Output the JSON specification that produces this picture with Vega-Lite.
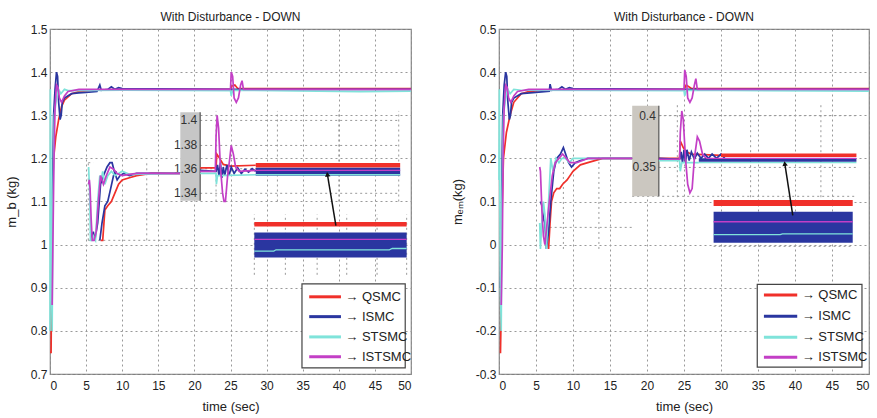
{
"$schema": "https://vega.github.io/schema/vega-lite/v6.json",
"background": "white",
"padding": {"left": 4, "top": 10, "right": 0, "bottom": 0},
"autosize": {"type": "pad"},
"bounds": "flush",
"spacing": 88,
"config": {
  "font": "Liberation Sans",
  "view": {"stroke": "#808080", "strokeWidth": 1.2},
  "axis": {"domain": false, "ticks": false, "grid": true, "gridColor": "#999", "gridDash": [2, 3], "gridWidth": 1, "labelFontSize": 12, "labelColor": "#222", "labelFont": "Liberation Sans", "titleFont": "Liberation Sans", "titleFontSize": 13, "titleFontWeight": "normal", "titleColor": "#222", "labelPadding": 4},
  "title": {"fontSize": 12, "fontWeight": "normal", "offset": -1, "color": "#222", "font": "Liberation Sans"}
},
"datasets": {
  "Lm": [
    {"s":"QSMC","g":"m","t":0,"v":0.75},{"s":"QSMC","g":"m","t":0.15,"v":0.75},{"s":"QSMC","g":"m","t":0.22,"v":0.9},{"s":"QSMC","g":"m","t":0.3,"v":1.08},{"s":"QSMC","g":"m","t":0.4,"v":1.15},{"s":"QSMC","g":"m","t":0.5,"v":1.2},{"s":"QSMC","g":"m","t":0.8,"v":1.25},{"s":"QSMC","g":"m","t":1.2,"v":1.29},{"s":"QSMC","g":"m","t":1.6,"v":1.32},{"s":"QSMC","g":"m","t":2,"v":1.335},{"s":"QSMC","g":"m","t":3,"v":1.35},{"s":"QSMC","g":"m","t":4,"v":1.355},{"s":"QSMC","g":"m","t":6,"v":1.358},{"s":"QSMC","g":"m","t":10,"v":1.36},{"s":"QSMC","g":"m","t":25,"v":1.36},{"s":"QSMC","g":"m","t":25.2,"v":1.368},{"s":"QSMC","g":"m","t":25.6,"v":1.37},{"s":"QSMC","g":"m","t":26,"v":1.362},{"s":"QSMC","g":"m","t":50,"v":1.362},
    {"s":"QSMC","g":"i1","t":7.0,"v":1.01},{"s":"QSMC","g":"i1","t":7.3,"v":1.01},{"s":"QSMC","g":"i1","t":7.6,"v":1.08},{"s":"QSMC","g":"i1","t":8,"v":1.09},{"s":"QSMC","g":"i1","t":8.5,"v":1.1},{"s":"QSMC","g":"i1","t":9,"v":1.12},{"s":"QSMC","g":"i1","t":9.5,"v":1.14},{"s":"QSMC","g":"i1","t":10,"v":1.15},{"s":"QSMC","g":"i1","t":11,"v":1.155},{"s":"QSMC","g":"i1","t":12,"v":1.16},{"s":"QSMC","g":"i1","t":14,"v":1.165},{"s":"QSMC","g":"i1","t":18,"v":1.165},
    {"s":"QSMC","g":"i2","t":20.8,"v":1.178},{"s":"QSMC","g":"i2","t":23,"v":1.178},{"s":"QSMC","g":"i2","t":23.1,"v":1.21},{"s":"QSMC","g":"i2","t":23.5,"v":1.2},{"s":"QSMC","g":"i2","t":24,"v":1.186},{"s":"QSMC","g":"i2","t":25,"v":1.182},{"s":"QSMC","g":"i2","t":28.5,"v":1.184},
    {"s":"ISMC","g":"m","t":0.2,"v":0.86},{"s":"ISMC","g":"m","t":0.35,"v":1.1},{"s":"ISMC","g":"m","t":0.5,"v":1.3},{"s":"ISMC","g":"m","t":0.7,"v":1.36},{"s":"ISMC","g":"m","t":0.9,"v":1.4},{"s":"ISMC","g":"m","t":1.05,"v":1.39},{"s":"ISMC","g":"m","t":1.2,"v":1.33},{"s":"ISMC","g":"m","t":1.4,"v":1.29},{"s":"ISMC","g":"m","t":1.55,"v":1.3},{"s":"ISMC","g":"m","t":1.7,"v":1.33},{"s":"ISMC","g":"m","t":2,"v":1.34},{"s":"ISMC","g":"m","t":2.5,"v":1.345},{"s":"ISMC","g":"m","t":3,"v":1.35},{"s":"ISMC","g":"m","t":4,"v":1.352},{"s":"ISMC","g":"m","t":5,"v":1.353},{"s":"ISMC","g":"m","t":6.5,"v":1.355},{"s":"ISMC","g":"m","t":6.9,"v":1.37},{"s":"ISMC","g":"m","t":7.1,"v":1.358},{"s":"ISMC","g":"m","t":8,"v":1.36},{"s":"ISMC","g":"m","t":8.5,"v":1.366},{"s":"ISMC","g":"m","t":9,"v":1.36},{"s":"ISMC","g":"m","t":9.5,"v":1.364},{"s":"ISMC","g":"m","t":10,"v":1.362},{"s":"ISMC","g":"m","t":25,"v":1.36},{"s":"ISMC","g":"m","t":50,"v":1.36},
    {"s":"ISMC","g":"i1","t":5.6,"v":1.03},{"s":"ISMC","g":"i1","t":5.8,"v":1.02},{"s":"ISMC","g":"i1","t":6.0,"v":1.03},{"s":"ISMC","g":"i1","t":6.2,"v":1.01},{"s":"ISMC","g":"i1","t":6.6,"v":1.05},{"s":"ISMC","g":"i1","t":7.0,"v":1.14},{"s":"ISMC","g":"i1","t":7.4,"v":1.16},{"s":"ISMC","g":"i1","t":7.9,"v":1.18},{"s":"ISMC","g":"i1","t":8.3,"v":1.19},{"s":"ISMC","g":"i1","t":8.6,"v":1.19},{"s":"ISMC","g":"i1","t":8.9,"v":1.17},{"s":"ISMC","g":"i1","t":9.3,"v":1.15},{"s":"ISMC","g":"i1","t":9.7,"v":1.16},{"s":"ISMC","g":"i1","t":10.2,"v":1.165},{"s":"ISMC","g":"i1","t":11,"v":1.16},{"s":"ISMC","g":"i1","t":12,"v":1.165},{"s":"ISMC","g":"i1","t":18,"v":1.165},
    {"s":"ISMC","g":"i1b","t":6.9,"v":1.01},{"s":"ISMC","g":"i1b","t":7.2,"v":1.05},{"s":"ISMC","g":"i1b","t":7.6,"v":1.09},{"s":"ISMC","g":"i1b","t":8,"v":1.1},{"s":"ISMC","g":"i1b","t":8.4,"v":1.13},{"s":"ISMC","g":"i1b","t":8.8,"v":1.16},{"s":"ISMC","g":"i1b","t":9.2,"v":1.17},
    {"s":"ISMC","g":"i2","t":20.8,"v":1.172},{"s":"ISMC","g":"i2","t":23,"v":1.17},{"s":"ISMC","g":"i2","t":23.2,"v":1.185},{"s":"ISMC","g":"i2","t":23.4,"v":1.16},{"s":"ISMC","g":"i2","t":23.6,"v":1.19},{"s":"ISMC","g":"i2","t":23.8,"v":1.155},{"s":"ISMC","g":"i2","t":24,"v":1.18},{"s":"ISMC","g":"i2","t":24.2,"v":1.16},{"s":"ISMC","g":"i2","t":24.5,"v":1.185},{"s":"ISMC","g":"i2","t":24.8,"v":1.16},{"s":"ISMC","g":"i2","t":25.1,"v":1.18},{"s":"ISMC","g":"i2","t":25.5,"v":1.165},{"s":"ISMC","g":"i2","t":26,"v":1.178},{"s":"ISMC","g":"i2","t":26.5,"v":1.165},{"s":"ISMC","g":"i2","t":27,"v":1.175},{"s":"ISMC","g":"i2","t":27.5,"v":1.168},{"s":"ISMC","g":"i2","t":28,"v":1.176},{"s":"ISMC","g":"i2","t":28.5,"v":1.17},
    {"s":"STSMC","g":"m","t":0,"v":0.8},{"s":"STSMC","g":"m","t":0.05,"v":1.36},{"s":"STSMC","g":"m","t":0.12,"v":1.2},{"s":"STSMC","g":"m","t":0.22,"v":0.9},{"s":"STSMC","g":"m","t":0.3,"v":0.8},{"s":"STSMC","g":"m","t":0.4,"v":1.1},{"s":"STSMC","g":"m","t":0.6,"v":1.3},{"s":"STSMC","g":"m","t":0.9,"v":1.34},{"s":"STSMC","g":"m","t":1.2,"v":1.36},{"s":"STSMC","g":"m","t":1.5,"v":1.35},{"s":"STSMC","g":"m","t":2,"v":1.36},{"s":"STSMC","g":"m","t":2.5,"v":1.357},{"s":"STSMC","g":"m","t":10,"v":1.358},{"s":"STSMC","g":"m","t":25,"v":1.357},{"s":"STSMC","g":"m","t":25.1,"v":1.345},{"s":"STSMC","g":"m","t":25.3,"v":1.358},{"s":"STSMC","g":"m","t":43,"v":1.355},{"s":"STSMC","g":"m","t":50,"v":1.356},
    {"s":"STSMC","g":"i1","t":5.35,"v":1.18},{"s":"STSMC","g":"i1","t":5.5,"v":1.12},{"s":"STSMC","g":"i1","t":5.6,"v":1.01},{"s":"STSMC","g":"i1","t":5.8,"v":1.01},{"s":"STSMC","g":"i1","t":6.0,"v":1.02},{"s":"STSMC","g":"i1","t":6.3,"v":1.01},{"s":"STSMC","g":"i1","t":6.6,"v":1.1},{"s":"STSMC","g":"i1","t":6.9,"v":1.16},{"s":"STSMC","g":"i1","t":7.1,"v":1.15},{"s":"STSMC","g":"i1","t":7.3,"v":1.17},{"s":"STSMC","g":"i1","t":7.6,"v":1.14},{"s":"STSMC","g":"i1","t":8,"v":1.16},{"s":"STSMC","g":"i1","t":8.5,"v":1.17},{"s":"STSMC","g":"i1","t":9,"v":1.16},{"s":"STSMC","g":"i1","t":9.5,"v":1.165},{"s":"STSMC","g":"i1","t":10,"v":1.17},{"s":"STSMC","g":"i1","t":11,"v":1.163},{"s":"STSMC","g":"i1","t":18,"v":1.165},
    {"s":"STSMC","g":"i2","t":20.8,"v":1.165},{"s":"STSMC","g":"i2","t":23,"v":1.165},{"s":"STSMC","g":"i2","t":23.05,"v":1.14},{"s":"STSMC","g":"i2","t":23.2,"v":1.16},{"s":"STSMC","g":"i2","t":28.5,"v":1.162},
    {"s":"ISTSMC","g":"m","t":0.3,"v":0.86},{"s":"ISTSMC","g":"m","t":0.4,"v":1.0},{"s":"ISTSMC","g":"m","t":0.55,"v":1.2},{"s":"ISTSMC","g":"m","t":0.7,"v":1.32},{"s":"ISTSMC","g":"m","t":0.9,"v":1.37},{"s":"ISTSMC","g":"m","t":1.1,"v":1.365},{"s":"ISTSMC","g":"m","t":1.3,"v":1.34},{"s":"ISTSMC","g":"m","t":1.6,"v":1.33},{"s":"ISTSMC","g":"m","t":2,"v":1.345},{"s":"ISTSMC","g":"m","t":2.5,"v":1.355},{"s":"ISTSMC","g":"m","t":4,"v":1.36},{"s":"ISTSMC","g":"m","t":25,"v":1.36},{"s":"ISTSMC","g":"m","t":25.1,"v":1.4},{"s":"ISTSMC","g":"m","t":25.3,"v":1.39},{"s":"ISTSMC","g":"m","t":25.5,"v":1.34},{"s":"ISTSMC","g":"m","t":25.8,"v":1.33},{"s":"ISTSMC","g":"m","t":26.1,"v":1.34},{"s":"ISTSMC","g":"m","t":26.4,"v":1.37},{"s":"ISTSMC","g":"m","t":26.6,"v":1.38},{"s":"ISTSMC","g":"m","t":26.8,"v":1.36},{"s":"ISTSMC","g":"m","t":27.2,"v":1.36},{"s":"ISTSMC","g":"m","t":50,"v":1.36},
    {"s":"ISTSMC","g":"i1","t":5.35,"v":1.14},{"s":"ISTSMC","g":"i1","t":5.45,"v":1.15},{"s":"ISTSMC","g":"i1","t":5.55,"v":1.13},{"s":"ISTSMC","g":"i1","t":5.7,"v":1.06},{"s":"ISTSMC","g":"i1","t":5.85,"v":1.01},{"s":"ISTSMC","g":"i1","t":6.1,"v":1.01},{"s":"ISTSMC","g":"i1","t":6.4,"v":1.03},{"s":"ISTSMC","g":"i1","t":6.7,"v":1.1},{"s":"ISTSMC","g":"i1","t":7.0,"v":1.16},{"s":"ISTSMC","g":"i1","t":7.4,"v":1.14},{"s":"ISTSMC","g":"i1","t":7.8,"v":1.16},{"s":"ISTSMC","g":"i1","t":8.3,"v":1.18},{"s":"ISTSMC","g":"i1","t":8.8,"v":1.175},{"s":"ISTSMC","g":"i1","t":9.3,"v":1.165},{"s":"ISTSMC","g":"i1","t":10,"v":1.16},{"s":"ISTSMC","g":"i1","t":11,"v":1.163},{"s":"ISTSMC","g":"i1","t":12,"v":1.165},{"s":"ISTSMC","g":"i1","t":18,"v":1.165},
    {"s":"ISTSMC","g":"i2","t":20.8,"v":1.17},{"s":"ISTSMC","g":"i2","t":22.9,"v":1.17},{"s":"ISTSMC","g":"i2","t":23,"v":1.25},{"s":"ISTSMC","g":"i2","t":23.15,"v":1.3},{"s":"ISTSMC","g":"i2","t":23.35,"v":1.27},{"s":"ISTSMC","g":"i2","t":23.6,"v":1.18},{"s":"ISTSMC","g":"i2","t":23.9,"v":1.12},{"s":"ISTSMC","g":"i2","t":24.1,"v":1.1},{"s":"ISTSMC","g":"i2","t":24.3,"v":1.1},{"s":"ISTSMC","g":"i2","t":24.6,"v":1.16},{"s":"ISTSMC","g":"i2","t":24.9,"v":1.2},{"s":"ISTSMC","g":"i2","t":25.1,"v":1.23},{"s":"ISTSMC","g":"i2","t":25.4,"v":1.21},{"s":"ISTSMC","g":"i2","t":25.7,"v":1.18},{"s":"ISTSMC","g":"i2","t":26.2,"v":1.17},{"s":"ISTSMC","g":"i2","t":28.5,"v":1.172}
  ],
  "Lb4": [
    {"s":"QSMC","g":"a","t":28.5,"v":1.184},{"s":"QSMC","g":"a","t":48.5,"v":1.184},
    {"s":"QSMC","g":"b","t":28.3,"v":1.047},{"s":"QSMC","g":"b","t":49.4,"v":1.047}
  ],
  "Lb8": [
    {"s":"ISMC","g":"a","t":28.5,"v":1.169},{"s":"ISMC","g":"a","t":48.5,"v":1.169}
  ],
  "Lb25": [
    {"s":"ISMC","g":"b","t":28.3,"v":0.999},{"s":"ISMC","g":"b","t":49.4,"v":0.999}
  ],
  "Ltop": [
    {"s":"STSMC","g":"a","t":28.5,"v":1.162},{"s":"STSMC","g":"a","t":48.5,"v":1.162},
    {"s":"STSMC","g":"b","t":28.3,"v":0.985},{"s":"STSMC","g":"b","t":31,"v":0.985},{"s":"STSMC","g":"b","t":31.3,"v":0.988},{"s":"STSMC","g":"b","t":47,"v":0.988},{"s":"STSMC","g":"b","t":47.4,"v":0.991},{"s":"STSMC","g":"b","t":49.4,"v":0.991},
    {"s":"ISTSMC","g":"a","t":28.5,"v":1.172},{"s":"ISTSMC","g":"a","t":48.5,"v":1.172},
    {"s":"ISTSMC","g":"b","t":28.3,"v":1.012},{"s":"ISTSMC","g":"b","t":49.4,"v":1.012}
  ],
  "Lgrid": [
    {"t":20.8,"v":1.288,"t2":48.3,"v2":1.288},{"t":20.8,"v":1.23,"t2":48.3,"v2":1.23},{"t":20.8,"v":1.176,"t2":48.3,"v2":1.176},{"t":20.8,"v":1.119,"t2":48.3,"v2":1.119},
    {"t":23,"v":1.1,"t2":23,"v2":1.31},{"t":31.5,"v":1.1,"t2":31.5,"v2":1.31},{"t":40,"v":1.1,"t2":40,"v2":1.31},{"t":48.3,"v":1.1,"t2":48.3,"v2":1.31},
    {"t":28.3,"v":0.93,"t2":28.3,"v2":1.07},{"t":32.6,"v":0.93,"t2":32.6,"v2":1.07},{"t":37,"v":0.93,"t2":37,"v2":1.07},{"t":41.1,"v":0.93,"t2":41.1,"v2":1.07},{"t":45.3,"v":0.93,"t2":45.3,"v2":1.07},{"t":49.4,"v":0.93,"t2":49.4,"v2":1.07},
    {"t":13.4,"v":1.01,"t2":13.4,"v2":1.19},{"t":5.3,"v":1.01,"t2":18,"v2":1.01},{"t":5.3,"v":1.01,"t2":5.3,"v2":1.19},{"t":5.3,"v":1.19,"t2":6,"v2":1.19}
  ],
  "Lbox": [{"t":18.05,"v":1.102,"t2":20.8,"v2":1.307}],
  "Ltx": [{"t":20.4,"v":1.288,"lab":"1.4"},{"t":20.4,"v":1.23,"lab":"1.38"},{"t":20.4,"v":1.176,"lab":"1.36"},{"t":20.4,"v":1.119,"lab":"1.34"}],
  "Larrow": [{"t":39.6,"v":1.044,"t2":38.45,"v2":1.16}],
  "Lhead": [{"t":38.42,"v":1.163}],
  "Llegbox": [{"t":34.9,"v":0.714,"t2":49.2,"v2":0.909}],
  "Lleg": [
    {"s":"QSMC","t":35.9,"t2":40.3,"v":0.879,"tl":40.9,"lab":"→ QSMC"},
    {"s":"ISMC","t":35.9,"t2":40.3,"v":0.833,"tl":40.9,"lab":"→ ISMC"},
    {"s":"STSMC","t":35.9,"t2":40.3,"v":0.786,"tl":40.9,"lab":"→ STSMC"},
    {"s":"ISTSMC","t":35.9,"t2":40.3,"v":0.74,"tl":40.9,"lab":"→ ISTSMC"}
  ],
  "Rm": [
    {"s":"QSMC","g":"m","t":0.1,"v":-0.25},{"s":"QSMC","g":"m","t":0.2,"v":-0.25},{"s":"QSMC","g":"m","t":0.25,"v":-0.2},{"s":"QSMC","g":"m","t":0.3,"v":0.0},{"s":"QSMC","g":"m","t":0.45,"v":0.1},{"s":"QSMC","g":"m","t":0.6,"v":0.2},{"s":"QSMC","g":"m","t":1,"v":0.26},{"s":"QSMC","g":"m","t":1.5,"v":0.3},{"s":"QSMC","g":"m","t":2,"v":0.33},{"s":"QSMC","g":"m","t":3,"v":0.35},{"s":"QSMC","g":"m","t":4,"v":0.355},{"s":"QSMC","g":"m","t":6,"v":0.358},{"s":"QSMC","g":"m","t":10,"v":0.36},{"s":"QSMC","g":"m","t":25,"v":0.36},{"s":"QSMC","g":"m","t":25.3,"v":0.37},{"s":"QSMC","g":"m","t":26,"v":0.362},{"s":"QSMC","g":"m","t":50,"v":0.362},
    {"s":"QSMC","g":"i1","t":6.7,"v":-0.01},{"s":"QSMC","g":"i1","t":6.9,"v":0.05},{"s":"QSMC","g":"i1","t":7.1,"v":0.1},{"s":"QSMC","g":"i1","t":7.4,"v":0.12},{"s":"QSMC","g":"i1","t":7.8,"v":0.13},{"s":"QSMC","g":"i1","t":8.2,"v":0.13},{"s":"QSMC","g":"i1","t":8.6,"v":0.14},{"s":"QSMC","g":"i1","t":9.2,"v":0.15},{"s":"QSMC","g":"i1","t":10,"v":0.17},{"s":"QSMC","g":"i1","t":11,"v":0.185},{"s":"QSMC","g":"i1","t":12,"v":0.19},{"s":"QSMC","g":"i1","t":14,"v":0.2},{"s":"QSMC","g":"i1","t":18,"v":0.2},
    {"s":"QSMC","g":"i2","t":21.6,"v":0.2},{"s":"QSMC","g":"i2","t":24.4,"v":0.2},{"s":"QSMC","g":"i2","t":24.5,"v":0.24},{"s":"QSMC","g":"i2","t":24.9,"v":0.225},{"s":"QSMC","g":"i2","t":25.3,"v":0.215},{"s":"QSMC","g":"i2","t":26,"v":0.21},{"s":"QSMC","g":"i2","t":30,"v":0.207},
    {"s":"ISMC","g":"m","t":0.2,"v":-0.1},{"s":"ISMC","g":"m","t":0.35,"v":0.1},{"s":"ISMC","g":"m","t":0.5,"v":0.3},{"s":"ISMC","g":"m","t":0.7,"v":0.37},{"s":"ISMC","g":"m","t":0.9,"v":0.4},{"s":"ISMC","g":"m","t":1.05,"v":0.39},{"s":"ISMC","g":"m","t":1.2,"v":0.33},{"s":"ISMC","g":"m","t":1.4,"v":0.29},{"s":"ISMC","g":"m","t":1.55,"v":0.3},{"s":"ISMC","g":"m","t":1.7,"v":0.33},{"s":"ISMC","g":"m","t":2,"v":0.34},{"s":"ISMC","g":"m","t":3,"v":0.35},{"s":"ISMC","g":"m","t":5,"v":0.353},{"s":"ISMC","g":"m","t":6.8,"v":0.356},{"s":"ISMC","g":"m","t":6.9,"v":0.372},{"s":"ISMC","g":"m","t":7.1,"v":0.358},{"s":"ISMC","g":"m","t":8,"v":0.36},{"s":"ISMC","g":"m","t":8.5,"v":0.366},{"s":"ISMC","g":"m","t":9,"v":0.36},{"s":"ISMC","g":"m","t":9.5,"v":0.364},{"s":"ISMC","g":"m","t":10,"v":0.362},{"s":"ISMC","g":"m","t":25,"v":0.36},{"s":"ISMC","g":"m","t":50,"v":0.36},
    {"s":"ISMC","g":"i1","t":5.6,"v":0.1},{"s":"ISMC","g":"i1","t":5.8,"v":0.09},{"s":"ISMC","g":"i1","t":6.0,"v":0.06},{"s":"ISMC","g":"i1","t":6.2,"v":0.05},{"s":"ISMC","g":"i1","t":6.4,"v":-0.01},{"s":"ISMC","g":"i1","t":6.7,"v":0.03},{"s":"ISMC","g":"i1","t":7.0,"v":0.1},{"s":"ISMC","g":"i1","t":7.4,"v":0.17},{"s":"ISMC","g":"i1","t":7.8,"v":0.2},{"s":"ISMC","g":"i1","t":8.3,"v":0.21},{"s":"ISMC","g":"i1","t":8.7,"v":0.225},{"s":"ISMC","g":"i1","t":9.0,"v":0.21},{"s":"ISMC","g":"i1","t":9.4,"v":0.19},{"s":"ISMC","g":"i1","t":9.8,"v":0.18},{"s":"ISMC","g":"i1","t":10.3,"v":0.19},{"s":"ISMC","g":"i1","t":11,"v":0.195},{"s":"ISMC","g":"i1","t":12,"v":0.2},{"s":"ISMC","g":"i1","t":18,"v":0.2},
    {"s":"ISMC","g":"i2","t":21.6,"v":0.2},{"s":"ISMC","g":"i2","t":24.4,"v":0.198},{"s":"ISMC","g":"i2","t":24.6,"v":0.215},{"s":"ISMC","g":"i2","t":24.8,"v":0.19},{"s":"ISMC","g":"i2","t":25,"v":0.22},{"s":"ISMC","g":"i2","t":25.2,"v":0.19},{"s":"ISMC","g":"i2","t":25.4,"v":0.22},{"s":"ISMC","g":"i2","t":25.7,"v":0.195},{"s":"ISMC","g":"i2","t":26,"v":0.215},{"s":"ISMC","g":"i2","t":26.4,"v":0.198},{"s":"ISMC","g":"i2","t":26.8,"v":0.212},{"s":"ISMC","g":"i2","t":27.3,"v":0.2},{"s":"ISMC","g":"i2","t":27.8,"v":0.21},{"s":"ISMC","g":"i2","t":28.3,"v":0.2},{"s":"ISMC","g":"i2","t":28.8,"v":0.21},{"s":"ISMC","g":"i2","t":29.4,"v":0.2},{"s":"ISMC","g":"i2","t":30,"v":0.21},{"s":"ISMC","g":"i2","t":30.5,"v":0.2},
    {"s":"STSMC","g":"m","t":0,"v":0.15},{"s":"STSMC","g":"m","t":0.05,"v":0.36},{"s":"STSMC","g":"m","t":0.12,"v":0.1},{"s":"STSMC","g":"m","t":0.2,"v":-0.1},{"s":"STSMC","g":"m","t":0.3,"v":-0.2},{"s":"STSMC","g":"m","t":0.4,"v":0.1},{"s":"STSMC","g":"m","t":0.6,"v":0.3},{"s":"STSMC","g":"m","t":0.9,"v":0.34},{"s":"STSMC","g":"m","t":1.2,"v":0.36},{"s":"STSMC","g":"m","t":1.5,"v":0.35},{"s":"STSMC","g":"m","t":2,"v":0.36},{"s":"STSMC","g":"m","t":3,"v":0.358},{"s":"STSMC","g":"m","t":25,"v":0.357},{"s":"STSMC","g":"m","t":25.1,"v":0.345},{"s":"STSMC","g":"m","t":25.3,"v":0.358},{"s":"STSMC","g":"m","t":50,"v":0.356},
    {"s":"STSMC","g":"i1","t":5.5,"v":0.05},{"s":"STSMC","g":"i1","t":5.6,"v":-0.01},{"s":"STSMC","g":"i1","t":5.8,"v":0.06},{"s":"STSMC","g":"i1","t":6.0,"v":0.1},{"s":"STSMC","g":"i1","t":6.2,"v":0.07},{"s":"STSMC","g":"i1","t":6.4,"v":-0.01},{"s":"STSMC","g":"i1","t":6.7,"v":0.1},{"s":"STSMC","g":"i1","t":7.0,"v":0.2},{"s":"STSMC","g":"i1","t":7.3,"v":0.17},{"s":"STSMC","g":"i1","t":7.7,"v":0.2},{"s":"STSMC","g":"i1","t":8.1,"v":0.19},{"s":"STSMC","g":"i1","t":8.5,"v":0.2},{"s":"STSMC","g":"i1","t":9,"v":0.2},{"s":"STSMC","g":"i1","t":9.5,"v":0.19},{"s":"STSMC","g":"i1","t":10,"v":0.2},{"s":"STSMC","g":"i1","t":11,"v":0.2},{"s":"STSMC","g":"i1","t":18,"v":0.2},
    {"s":"STSMC","g":"i2","t":21.6,"v":0.195},{"s":"STSMC","g":"i2","t":24.4,"v":0.195},{"s":"STSMC","g":"i2","t":24.5,"v":0.17},{"s":"STSMC","g":"i2","t":24.7,"v":0.19},{"s":"STSMC","g":"i2","t":27,"v":0.19},
    {"s":"ISTSMC","g":"m","t":0.3,"v":-0.14},{"s":"ISTSMC","g":"m","t":0.45,"v":0.0},{"s":"ISTSMC","g":"m","t":0.55,"v":0.2},{"s":"ISTSMC","g":"m","t":0.7,"v":0.32},{"s":"ISTSMC","g":"m","t":0.9,"v":0.37},{"s":"ISTSMC","g":"m","t":1.1,"v":0.365},{"s":"ISTSMC","g":"m","t":1.3,"v":0.34},{"s":"ISTSMC","g":"m","t":1.6,"v":0.33},{"s":"ISTSMC","g":"m","t":2,"v":0.345},{"s":"ISTSMC","g":"m","t":2.5,"v":0.355},{"s":"ISTSMC","g":"m","t":4,"v":0.36},{"s":"ISTSMC","g":"m","t":25,"v":0.36},{"s":"ISTSMC","g":"m","t":25.1,"v":0.405},{"s":"ISTSMC","g":"m","t":25.3,"v":0.39},{"s":"ISTSMC","g":"m","t":25.5,"v":0.34},{"s":"ISTSMC","g":"m","t":25.8,"v":0.33},{"s":"ISTSMC","g":"m","t":26.1,"v":0.34},{"s":"ISTSMC","g":"m","t":26.4,"v":0.37},{"s":"ISTSMC","g":"m","t":26.6,"v":0.385},{"s":"ISTSMC","g":"m","t":26.8,"v":0.36},{"s":"ISTSMC","g":"m","t":27.2,"v":0.36},{"s":"ISTSMC","g":"m","t":50,"v":0.36},
    {"s":"ISTSMC","g":"i1","t":5.5,"v":0.18},{"s":"ISTSMC","g":"i1","t":5.6,"v":0.17},{"s":"ISTSMC","g":"i1","t":5.8,"v":0.08},{"s":"ISTSMC","g":"i1","t":6.0,"v":0.02},{"s":"ISTSMC","g":"i1","t":6.2,"v":0.0},{"s":"ISTSMC","g":"i1","t":6.5,"v":0.05},{"s":"ISTSMC","g":"i1","t":6.8,"v":0.1},{"s":"ISTSMC","g":"i1","t":7.2,"v":0.16},{"s":"ISTSMC","g":"i1","t":7.6,"v":0.19},{"s":"ISTSMC","g":"i1","t":8.1,"v":0.2},{"s":"ISTSMC","g":"i1","t":8.6,"v":0.21},{"s":"ISTSMC","g":"i1","t":9.1,"v":0.2},{"s":"ISTSMC","g":"i1","t":9.6,"v":0.19},{"s":"ISTSMC","g":"i1","t":10.5,"v":0.19},{"s":"ISTSMC","g":"i1","t":12,"v":0.2},{"s":"ISTSMC","g":"i1","t":18,"v":0.2},
    {"s":"ISTSMC","g":"i2","t":21.6,"v":0.198},{"s":"ISTSMC","g":"i2","t":24.4,"v":0.198},{"s":"ISTSMC","g":"i2","t":24.5,"v":0.26},{"s":"ISTSMC","g":"i2","t":24.7,"v":0.31},{"s":"ISTSMC","g":"i2","t":24.9,"v":0.29},{"s":"ISTSMC","g":"i2","t":25.2,"v":0.2},{"s":"ISTSMC","g":"i2","t":25.5,"v":0.14},{"s":"ISTSMC","g":"i2","t":25.8,"v":0.12},{"s":"ISTSMC","g":"i2","t":26.1,"v":0.13},{"s":"ISTSMC","g":"i2","t":26.4,"v":0.2},{"s":"ISTSMC","g":"i2","t":26.8,"v":0.25},{"s":"ISTSMC","g":"i2","t":27.1,"v":0.24},{"s":"ISTSMC","g":"i2","t":27.5,"v":0.21},{"s":"ISTSMC","g":"i2","t":28,"v":0.2}
  ],
  "Rb4": [
    {"s":"QSMC","g":"a","t":30,"v":0.207},{"s":"QSMC","g":"a","t":48.3,"v":0.207},
    {"s":"ISMC","g":"a","t":27,"v":0.196},{"s":"ISMC","g":"a","t":48.3,"v":0.196}
  ],
  "Rb6": [
    {"s":"QSMC","g":"b","t":29,"v":0.0965},{"s":"QSMC","g":"b","t":47.8,"v":0.0965}
  ],
  "Rb31": [
    {"s":"ISMC","g":"b","t":29,"v":0.0405},{"s":"ISMC","g":"b","t":47.8,"v":0.0405}
  ],
  "Rtop": [
    {"s":"STSMC","g":"a","t":27,"v":0.19},{"s":"STSMC","g":"a","t":48.3,"v":0.19},
    {"s":"STSMC","g":"b","t":29,"v":0.023},{"s":"STSMC","g":"b","t":38,"v":0.023},{"s":"STSMC","g":"b","t":38.3,"v":0.025},{"s":"STSMC","g":"b","t":47.8,"v":0.025},
    {"s":"ISTSMC","g":"a","t":28,"v":0.2},{"s":"ISTSMC","g":"a","t":48.3,"v":0.2},
    {"s":"ISTSMC","g":"b","t":29,"v":0.053},{"s":"ISTSMC","g":"b","t":47.8,"v":0.053}
  ],
  "Rgrid": [
    {"t":21.6,"v":0.299,"t2":48.3,"v2":0.299},{"t":21.6,"v":0.179,"t2":48.3,"v2":0.179},
    {"t":24.1,"v":0.11,"t2":24.1,"v2":0.33},{"t":34,"v":0.11,"t2":34,"v2":0.33},{"t":43.5,"v":0.11,"t2":43.5,"v2":0.33},
    {"t":18,"v":0.112,"t2":48.3,"v2":0.112},
    {"t":29,"v":-0.004,"t2":47.8,"v2":-0.004},
    {"t":8.7,"v":-0.01,"t2":8.7,"v2":0.21},{"t":13.5,"v":-0.01,"t2":13.5,"v2":0.21},{"t":5.5,"v":0.04,"t2":18,"v2":0.04}
  ],
  "Rbox": [{"t":18.0,"v":0.112,"t2":21.6,"v2":0.322}],
  "Rtx": [{"t":21.2,"v":0.299,"lab":"0.4"},{"t":21.2,"v":0.179,"lab":"0.35"}],
  "Rarrow": [{"t":39.7,"v":0.068,"t2":38.65,"v2":0.185}],
  "Rhead": [{"t":38.62,"v":0.188}],
  "Rlegbox": [{"t":34.9,"v":-0.284,"t2":49.05,"v2":-0.092}],
  "Rleg": [
    {"s":"QSMC","t":35.8,"t2":40.3,"v":-0.117,"tl":40.9,"lab":"→ QSMC"},
    {"s":"ISMC","t":35.8,"t2":40.3,"v":-0.166,"tl":40.9,"lab":"→ ISMC"},
    {"s":"STSMC","t":35.8,"t2":40.3,"v":-0.215,"tl":40.9,"lab":"→ STSMC"},
    {"s":"ISTSMC","t":35.8,"t2":40.3,"v":-0.261,"tl":40.9,"lab":"→ ISTSMC"}
  ]
},
"resolve": {"scale": {"x": "independent", "y": "independent", "color": "independent"}},
"hconcat": [
  {
    "title": "With Disturbance - DOWN",
    "width": 361, "height": 345,
    "encoding": {
      "x": {"field": "t", "type": "quantitative", "scale": {"domain": [0, 50], "nice": false, "zero": false}, "axis": {"values": [0,5,10,15,20,25,30,35,40,45,50], "title": "time (sec)", "titlePadding": 9, "labelPadding": 6}},
      "y": {"field": "v", "type": "quantitative", "scale": {"domain": [0.7, 1.5], "nice": false, "zero": false}, "axis": {"values": [0.7,0.8,0.9,1,1.1,1.2,1.3,1.4,1.5], "labelExpr": "toString(round(datum.value*10)/10)", "title": "m_b (kg)", "titlePadding": 12, "labelPadding": 3}}
    },
    "layer": [
      {"data": {"name": "Lgrid"}, "mark": {"type": "rule", "color": "#999", "strokeDash": [2, 3], "strokeWidth": 1}, "encoding": {"x2": {"field": "t2"}, "y2": {"field": "v2"}}},
      {"data": {"name": "Lbox"}, "mark": {"type": "rect", "color": "#c6c6c6"}, "encoding": {"x2": {"field": "t2"}, "y2": {"field": "v2"}}},
      {"data": {"name": "Lbox"}, "mark": {"type": "rule", "color": "#555", "strokeWidth": 1.2}, "encoding": {"x": {"field": "t2", "type": "quantitative"}, "y2": {"field": "v2"}}},
      {"data": {"name": "Ltx"}, "mark": {"type": "text", "align": "right", "baseline": "middle", "fontSize": 12, "color": "#333"}, "encoding": {"text": {"field": "lab"}}},
      {"data": {"name": "Lm"}, "mark": {"type": "line", "strokeWidth": 1.7}, "encoding": {"color": {"field": "s", "type": "nominal", "scale": {"domain": ["QSMC","ISMC","STSMC","ISTSMC"], "range": ["#f0302a","#2a36a0","#7fe3da","#c33fc6"]}, "legend": null}, "detail": {"field": "g"}}},
      {"data": {"name": "Lb4"}, "mark": {"type": "line", "strokeWidth": 4.5, "strokeCap": "butt"}, "encoding": {"color": {"field": "s", "type": "nominal", "legend": null}, "detail": {"field": "g"}}},
      {"data": {"name": "Lb8"}, "mark": {"type": "line", "strokeWidth": 8, "strokeCap": "butt"}, "encoding": {"color": {"field": "s", "type": "nominal", "legend": null}, "detail": {"field": "g"}}},
      {"data": {"name": "Lb25"}, "mark": {"type": "line", "strokeWidth": 25, "strokeCap": "butt"}, "encoding": {"color": {"field": "s", "type": "nominal", "legend": null}, "detail": {"field": "g"}}},
      {"data": {"name": "Ltop"}, "mark": {"type": "line", "strokeWidth": 1.3}, "encoding": {"color": {"field": "s", "type": "nominal", "legend": null}, "detail": {"field": "g"}}},
      {"data": {"name": "Larrow"}, "mark": {"type": "rule", "color": "#111", "strokeWidth": 1.5}, "encoding": {"x2": {"field": "t2"}, "y2": {"field": "v2"}}},
      {"data": {"name": "Lhead"}, "mark": {"type": "point", "shape": "triangle-up", "filled": true, "color": "#111", "opacity": 1, "size": 30, "angle": -9}},
      {"data": {"name": "Llegbox"}, "mark": {"type": "rect", "fill": "white", "stroke": "#444", "strokeWidth": 1.2}, "encoding": {"x2": {"field": "t2"}, "y2": {"field": "v2"}}},
      {"data": {"name": "Lleg"}, "mark": {"type": "rule", "strokeWidth": 3}, "encoding": {"x2": {"field": "t2"}, "color": {"field": "s", "type": "nominal", "legend": null}}},
      {"data": {"name": "Lleg"}, "mark": {"type": "text", "align": "left", "baseline": "middle", "fontSize": 13, "color": "#222"}, "encoding": {"x": {"field": "tl", "type": "quantitative"}, "text": {"field": "lab"}}}
    ]
  },
  {
    "title": "With Disturbance - DOWN",
    "width": 370, "height": 345,
    "encoding": {
      "x": {"field": "t", "type": "quantitative", "scale": {"domain": [0, 50], "nice": false, "zero": false}, "axis": {"values": [0,5,10,15,20,25,30,35,40,45,50], "title": "time (sec)", "titlePadding": 9, "labelPadding": 6}},
      "y": {"field": "v", "type": "quantitative", "scale": {"domain": [-0.3, 0.5], "nice": false, "zero": false}, "axis": {"values": [-0.3,-0.2,-0.1,0,0.1,0.2,0.3,0.4,0.5], "labelExpr": "toString(round(datum.value*10)/10)", "title": "mₑₘ(kg)", "titlePadding": 11, "labelPadding": 3}}
    },
    "layer": [
      {"data": {"name": "Rgrid"}, "mark": {"type": "rule", "color": "#999", "strokeDash": [2, 3], "strokeWidth": 1}, "encoding": {"x2": {"field": "t2"}, "y2": {"field": "v2"}}},
      {"data": {"name": "Rbox"}, "mark": {"type": "rect", "color": "#cbc7c0"}, "encoding": {"x2": {"field": "t2"}, "y2": {"field": "v2"}}},
      {"data": {"name": "Rbox"}, "mark": {"type": "rule", "color": "#555", "strokeWidth": 1.2}, "encoding": {"x": {"field": "t2", "type": "quantitative"}, "y2": {"field": "v2"}}},
      {"data": {"name": "Rtx"}, "mark": {"type": "text", "align": "right", "baseline": "middle", "fontSize": 12, "color": "#333"}, "encoding": {"text": {"field": "lab"}}},
      {"data": {"name": "Rm"}, "mark": {"type": "line", "strokeWidth": 1.7}, "encoding": {"color": {"field": "s", "type": "nominal", "scale": {"domain": ["QSMC","ISMC","STSMC","ISTSMC"], "range": ["#f0302a","#2a36a0","#7fe3da","#c33fc6"]}, "legend": null}, "detail": {"field": "g"}}},
      {"data": {"name": "Rb4"}, "mark": {"type": "line", "strokeWidth": 3.5, "strokeCap": "butt"}, "encoding": {"color": {"field": "s", "type": "nominal", "legend": null}, "detail": {"field": "g"}}},
      {"data": {"name": "Rb6"}, "mark": {"type": "line", "strokeWidth": 6, "strokeCap": "butt"}, "encoding": {"color": {"field": "s", "type": "nominal", "legend": null}, "detail": {"field": "g"}}},
      {"data": {"name": "Rb31"}, "mark": {"type": "line", "strokeWidth": 31, "strokeCap": "butt"}, "encoding": {"color": {"field": "s", "type": "nominal", "legend": null}, "detail": {"field": "g"}}},
      {"data": {"name": "Rtop"}, "mark": {"type": "line", "strokeWidth": 1.3}, "encoding": {"color": {"field": "s", "type": "nominal", "legend": null}, "detail": {"field": "g"}}},
      {"data": {"name": "Rarrow"}, "mark": {"type": "rule", "color": "#111", "strokeWidth": 1.5}, "encoding": {"x2": {"field": "t2"}, "y2": {"field": "v2"}}},
      {"data": {"name": "Rhead"}, "mark": {"type": "point", "shape": "triangle-up", "filled": true, "color": "#111", "opacity": 1, "size": 30, "angle": -8}},
      {"data": {"name": "Rlegbox"}, "mark": {"type": "rect", "fill": "white", "stroke": "#444", "strokeWidth": 1.2}, "encoding": {"x2": {"field": "t2"}, "y2": {"field": "v2"}}},
      {"data": {"name": "Rleg"}, "mark": {"type": "rule", "strokeWidth": 3}, "encoding": {"x2": {"field": "t2"}, "color": {"field": "s", "type": "nominal", "legend": null}}},
      {"data": {"name": "Rleg"}, "mark": {"type": "text", "align": "left", "baseline": "middle", "fontSize": 13, "color": "#222"}, "encoding": {"x": {"field": "tl", "type": "quantitative"}, "text": {"field": "lab"}}}
    ]
  }
]
}
